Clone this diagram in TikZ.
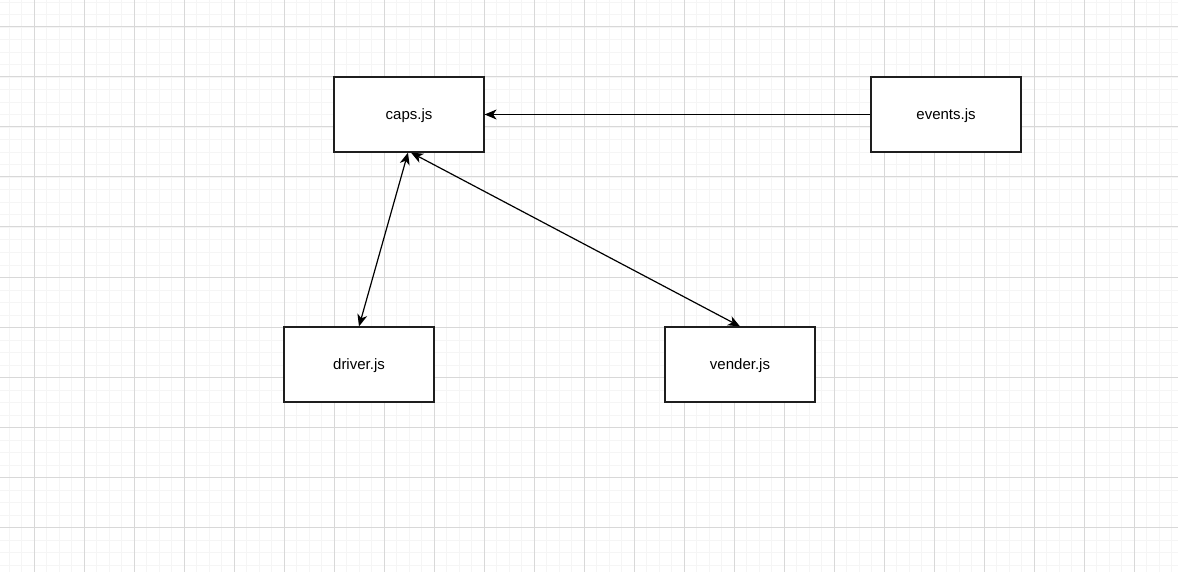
\documentclass[tikz,border=0pt]{standalone}
\usepackage{fontspec}
\setmainfont{Liberation Sans}
\usetikzlibrary{arrows.meta}
\begin{document}
\begin{tikzpicture}[x=1pt,y=-1pt,
  minorgrid/.style={draw={rgb,255:red,245;green,245;blue,245},line width=1pt},
  majorgrid/.style={draw={rgb,255:red,216;green,216;blue,216},line width=1pt},
  box/.style={draw={rgb,255:red,30;green,30;blue,30},line width=1.2pt,fill=white,minimum width=150pt,minimum height=75pt,inner sep=0pt,text depth=0pt,font=\fontsize{15}{17}\selectfont},
  conn/.style={line width=1.2pt,-{Stealth[length=12pt,width=10pt,inset=3.5pt]}},
  bconn/.style={line width=1.2pt,{Stealth[length=12pt,width=10pt,inset=3.5pt]}-{Stealth[length=12pt,width=10pt,inset=3.5pt]}}]
\useasboundingbox (0,0) rectangle (1178,572);
\clip (0,0) rectangle (1178,572);
\fill[white] (0,0) rectangle (1178,572);
\foreach \i in {0,...,95} { \draw[minorgrid] ({-3.5+12.5*\i},0) -- ({-3.5+12.5*\i},572); }
\foreach \i in {0,...,46} { \draw[minorgrid] (0,{2.5+12.5*\i}) -- (1178,{2.5+12.5*\i}); }
\foreach \i in {0,...,22} { \draw[majorgrid] ({34+50*\i},0) -- ({34+50*\i},572); }
\foreach \i in {0,...,10} { \draw[majorgrid] (0,{27+50*\i}) -- (1178,{27+50*\i}); }
\node[box] (caps) at (409,114.5) {caps.js};
\node[box] (events) at (946,114.5) {events.js};
\node[box] (driver) at (359,364.5) {driver.js};
\node[box] (vender) at (740,364.5) {vender.js};
\draw[conn] (events.west) -- (caps.east);
\draw[bconn] ([xshift=-1pt]caps.south) -- (driver.north);
\draw[bconn] ([xshift=2pt]caps.south) -- (vender.north);
\end{tikzpicture}
\end{document}
